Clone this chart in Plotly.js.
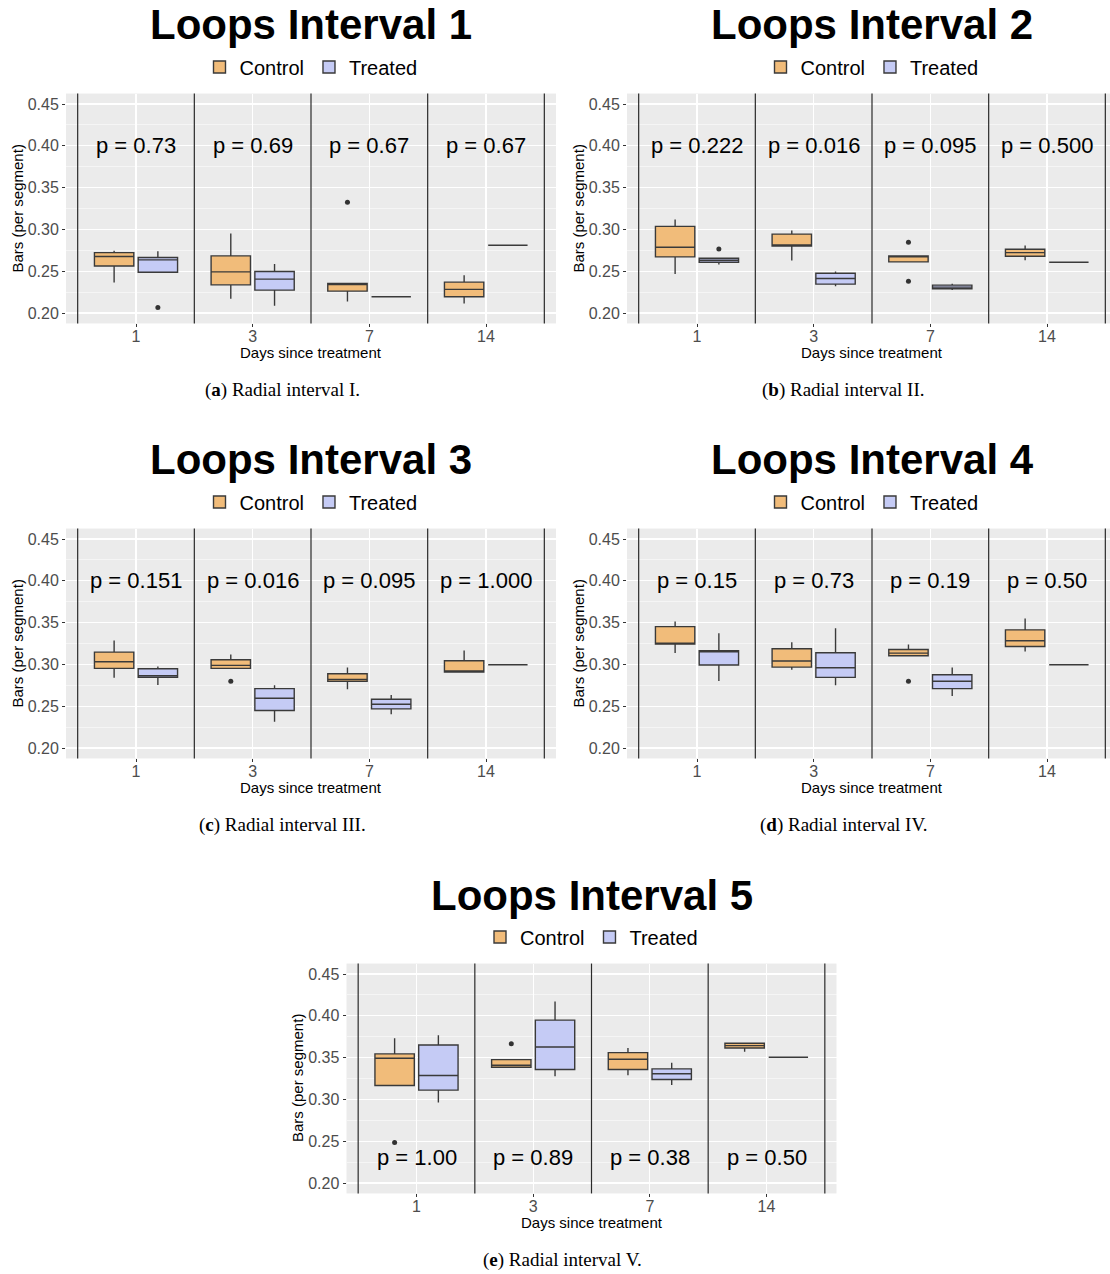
<!DOCTYPE html>
<html><head><meta charset="utf-8">
<script src="https://cdn.plot.ly/plotly-3.0.1.min.js"></script>
<style>html,body{margin:0;padding:0;background:#fff}</style>
</head><body><div id="chart" style="width:1110px;height:1274px"></div>
<script>
// ---------------- DATA ----------------
const days = ['1', '3', '7', '14'];
const groups = ['Control', 'Treated'];
const titles = ['Loops Interval 1', 'Loops Interval 2', 'Loops Interval 3', 'Loops Interval 4', 'Loops Interval 5'];
const captions = ['(<b>a</b>) Radial interval I.', '(<b>b</b>) Radial interval II.', '(<b>c</b>) Radial interval III.', '(<b>d</b>) Radial interval IV.', '(<b>e</b>) Radial interval V.'];

// Interval 1
const c1_lf  = [0.2365, 0.2171, 0.2139, 0.2115];
const c1_q1  = [0.2563, 0.2337, 0.2262, 0.2194];
const c1_med = [0.2675, 0.2492, 0.2345, 0.2282];
const c1_q3  = [0.2722, 0.2683, 0.2353, 0.2369];
const c1_uf  = [0.2746, 0.2952, 0.2353, 0.2452];
const c1_out = [[null], [null], [0.3325], [null]];
const t1_lf  = [0.2488, 0.2087, 0.2194, 0.2810];
const t1_q1  = [0.2488, 0.2274, 0.2194, 0.2810];
const t1_med = [0.2635, 0.2405, 0.2194, 0.2810];
const t1_q3  = [0.2663, 0.2496, 0.2194, 0.2810];
const t1_uf  = [0.2738, 0.2587, 0.2194, 0.2810];
const t1_out = [[0.2067], [null], [null], [null]];
const p1 = ['p = 0.73', 'p = 0.69', 'p = 0.67', 'p = 0.67'];

// Interval 2
const c2_lf  = [0.2468, 0.2627, 0.2611, 0.2631];
const c2_q1  = [0.2671, 0.2802, 0.2611, 0.2679];
const c2_med = [0.2786, 0.2810, 0.2675, 0.2722];
const c2_q3  = [0.3036, 0.2944, 0.2683, 0.2762];
const c2_uf  = [0.3119, 0.2988, 0.2683, 0.2806];
const c2_out = [[null], [null], [0.2845, 0.2381], [null]];
const t2_lf  = [0.2579, 0.2321, 0.2274, 0.2607];
const t2_q1  = [0.2607, 0.2345, 0.2290, 0.2607];
const t2_med = [0.2631, 0.2413, 0.2310, 0.2607];
const t2_q3  = [0.2655, 0.2476, 0.2333, 0.2607];
const t2_uf  = [0.2655, 0.2496, 0.2349, 0.2607];
const t2_out = [[0.2766], [null], [null], [null]];
const p2 = ['p = 0.222', 'p = 0.016', 'p = 0.095', 'p = 0.500'];

// Interval 3
const c3_lf  = [0.2841, 0.2952, 0.2702, 0.2909];
const c3_q1  = [0.2952, 0.2952, 0.2798, 0.2909];
const c3_med = [0.3032, 0.2988, 0.2821, 0.2913];
const c3_q3  = [0.3147, 0.3056, 0.2889, 0.3044];
const c3_uf  = [0.3286, 0.3119, 0.2964, 0.3167];
const c3_out = [[null], [0.2798], [null], [null]];
const t3_lf  = [0.2754, 0.2313, 0.2405, 0.2996];
const t3_q1  = [0.2845, 0.2448, 0.2468, 0.2996];
const t3_med = [0.2865, 0.2595, 0.2524, 0.2996];
const t3_q3  = [0.2948, 0.2710, 0.2583, 0.2996];
const t3_uf  = [0.2976, 0.2750, 0.2635, 0.2996];
const t3_out = [[null], [null], [null], [null]];
const p3 = ['p = 0.151', 'p = 0.016', 'p = 0.095', 'p = 1.000'];

// Interval 4
const c4_lf  = [0.3135, 0.2937, 0.3095, 0.3155];
const c4_q1  = [0.3242, 0.2968, 0.3103, 0.3214];
const c4_med = [0.3254, 0.3040, 0.3135, 0.3282];
const c4_q3  = [0.3452, 0.3187, 0.3179, 0.3413];
const c4_uf  = [0.3512, 0.3266, 0.3238, 0.3548];
const c4_out = [[null], [null], [0.2798], [null]];
const t4_lf  = [0.2802, 0.2750, 0.2623, 0.2996];
const t4_q1  = [0.2992, 0.2845, 0.2710, 0.2996];
const t4_med = [0.3155, 0.2960, 0.2798, 0.2996];
const t4_q3  = [0.3163, 0.3139, 0.2877, 0.2996];
const t4_uf  = [0.3373, 0.3433, 0.2964, 0.2996];
const t4_out = [[null], [null], [null], [null]];
const p4 = ['p = 0.15', 'p = 0.73', 'p = 0.19', 'p = 0.50'];

// Interval 5
const c5_lf  = [0.3167, 0.3385, 0.3290, 0.3571];
const c5_q1  = [0.3167, 0.3385, 0.3357, 0.3615];
const c5_med = [0.3492, 0.3409, 0.3480, 0.3643];
const c5_q3  = [0.3544, 0.3476, 0.3560, 0.3671];
const c5_uf  = [0.3730, 0.3476, 0.3615, 0.3679];
const c5_out = [[0.2484], [0.3667], [null], [null]];
const t5_lf  = [0.2964, 0.3278, 0.3171, 0.3504];
const t5_q1  = [0.3111, 0.3357, 0.3238, 0.3504];
const t5_med = [0.3286, 0.3627, 0.3306, 0.3504];
const t5_q3  = [0.3651, 0.3948, 0.3365, 0.3504];
const t5_uf  = [0.3766, 0.4171, 0.3437, 0.3504];
const t5_out = [[null], [null], [null], [null]];
const p5 = ['p = 1.00', 'p = 0.89', 'p = 0.38', 'p = 0.50'];

const pLabelY = [0.40, 0.40, 0.40, 0.40, 0.23];

const ctrlData = [
  [c1_lf, c1_q1, c1_med, c1_q3, c1_uf, c1_out],
  [c2_lf, c2_q1, c2_med, c2_q3, c2_uf, c2_out],
  [c3_lf, c3_q1, c3_med, c3_q3, c3_uf, c3_out],
  [c4_lf, c4_q1, c4_med, c4_q3, c4_uf, c4_out],
  [c5_lf, c5_q1, c5_med, c5_q3, c5_uf, c5_out]
];
const trtData = [
  [t1_lf, t1_q1, t1_med, t1_q3, t1_uf, t1_out],
  [t2_lf, t2_q1, t2_med, t2_q3, t2_uf, t2_out],
  [t3_lf, t3_q1, t3_med, t3_q3, t3_uf, t3_out],
  [t4_lf, t4_q1, t4_med, t4_q3, t4_uf, t4_out],
  [t5_lf, t5_q1, t5_med, t5_q3, t5_uf, t5_out]
];
const pvals = [p1, p2, p3, p4, p5];

// ---------------- LAYOUT / STYLE ----------------
const W = 1110, H = 1274;
const UNIT = 490 / 4.2;     // px per category
const PW = 490, PH = 229.9; // panel size px
const geo = [
  {L: 66, T: 93.55}, {L: 627, T: 93.55},
  {L: 66, T: 528.55}, {L: 627, T: 528.55},
  {L: 346.5, T: 963.55}
];
const SANS = 'Liberation Sans, Arial, Helvetica, sans-serif';
const SERIF = 'Liberation Serif, Times New Roman, serif';
const fills = ['#F1BC7A', '#C5CBF5'];
const edge = '#3a3a3a';

const traces = [];
const layout = {
  width: W, height: H,
  margin: {l: 0, r: 0, t: 0, b: 0},
  paper_bgcolor: '#ffffff',
  plot_bgcolor: '#EBEBEB',
  boxmode: 'group', boxgap: 0.25, boxgroupgap: 0.1,
  hovermode: false,
  font: {family: SANS, color: '#000'},
  annotations: [], shapes: []
};

function sfx(k) { return k === 1 ? '' : String(k); }

geo.forEach((g, i) => {
  const k = i + 1, s = sfx(k);
  const offY = g.T - 93.55;
  const right = Math.min(g.L + PW, W);
  const xa = 'xaxis' + s, ya = 'yaxis' + s;
  layout[xa] = {
    domain: [g.L / W, right / W],
    anchor: 'y' + s,
    type: 'category',
    categoryorder: 'array', categoryarray: days,
    range: [-0.6, -0.6 + (right - g.L) / UNIT],
    showgrid: true, gridcolor: '#ffffff', gridwidth: 1.1,
    zeroline: false, showline: false,
    ticks: 'outside', ticklen: 3, tickwidth: 1, tickcolor: '#333',
    ticklabelstandoff: -5,
    tickfont: {size: 16, color: '#4D4D4D', family: SANS},
    fixedrange: true
  };
  layout[ya] = {
    domain: [(H - (g.T + PH)) / H, (H - g.T) / H],
    anchor: 'x' + s,
    type: 'linear',
    range: [0.1875, 0.4625],
    tick0: 0.2, dtick: 0.05, tickformat: '.2f',
    showgrid: true, gridcolor: '#ffffff', gridwidth: 1.1,
    minor: {tick0: 0.2, dtick: 0.025, showgrid: true, gridcolor: '#ffffff', gridwidth: 0.5, ticks: ''},
    zeroline: false, showline: false,
    ticks: 'outside', ticklen: 3, tickwidth: 1, tickcolor: '#333',
    tickfont: {size: 16, color: '#4D4D4D', family: SANS},
    fixedrange: true
  };

  const legName = 'legend' + s;
  layout[legName] = {
    orientation: 'h',
    x: (g.L + 245) / W, xanchor: 'center',
    y: 1 - (67 + offY) / H, yanchor: 'middle',
    font: {size: 20, color: '#000', family: SANS},
    bgcolor: 'rgba(0,0,0,0)',
    itemwidth: 30, tracegroupgap: 0
  };

  [ctrlData[i], trtData[i]].forEach((d, gi) => {
    traces.push({
      type: 'box', name: groups[gi],
      x: days,
      lowerfence: d[0], q1: d[1], median: d[2], q3: d[3], upperfence: d[4],
      y: d[5],
      boxpoints: 'outliers', jitter: 0, pointpos: 0,
      whiskerwidth: 0,
      fillcolor: fills[gi],
      line: {color: edge, width: 1.4},
      marker: {color: '#333333', size: 5, line: {width: 0}},
      xaxis: 'x' + s, yaxis: 'y' + s,
      alignmentgroup: 'panel' + k,
      offsetgroup: groups[gi],
      legend: legName,
      showlegend: true,
      hoverinfo: 'skip'
    });
  });

  // separators between day groups
  [-0.5, 0.5, 1.5, 2.5, 3.5].forEach(xv => {
    layout.shapes.push({
      type: 'line', xref: 'x' + s, yref: 'y' + s + ' domain',
      x0: xv, x1: xv, y0: 0, y1: 1,
      line: {color: '#2b2b2b', width: 1.2}
    });
  });

  // p-value labels (x given as category index)
  days.forEach((dd, j) => {
    layout.annotations.push({
      xref: 'x' + s, yref: 'y' + s, x: j, y: pLabelY[i],
      text: pvals[i][j], showarrow: false,
      font: {size: 22, color: '#000', family: SANS},
      xanchor: 'center', yanchor: 'middle'
    });
  });

  // title
  layout.annotations.push({
    xref: 'paper', yref: 'paper',
    x: (g.L + 245) / W, y: 1 - (25 + offY) / H,
    text: titles[i], showarrow: false,
    font: {size: 42, color: '#000', family: SANS, weight: 700},
    xanchor: 'center', yanchor: 'middle'
  });
  // y title
  layout.annotations.push({
    xref: 'paper', yref: 'paper',
    x: (g.L - 49) / W, y: 1 - (g.T + PH / 2) / H,
    text: 'Bars (per segment)', showarrow: false, textangle: -90,
    font: {size: 15, color: '#000', family: SANS},
    xanchor: 'center', yanchor: 'middle'
  });
  // x title
  layout.annotations.push({
    xref: 'paper', yref: 'paper',
    x: (g.L + 245) / W, y: 1 - (352 + offY) / H,
    text: 'Days since treatment', showarrow: false,
    font: {size: 15, color: '#000', family: SANS},
    xanchor: 'center', yanchor: 'middle'
  });
  // caption
  layout.annotations.push({
    xref: 'paper', yref: 'paper',
    x: (g.L + 216) / W, y: 1 - (390 + offY) / H,
    text: captions[i], showarrow: false,
    font: {size: 19, color: '#000', family: SERIF},
    xanchor: 'center', yanchor: 'middle'
  });
});

Plotly.newPlot('chart', traces, layout, {staticPlot: true, displayModeBar: false});
</script>
</body></html>
